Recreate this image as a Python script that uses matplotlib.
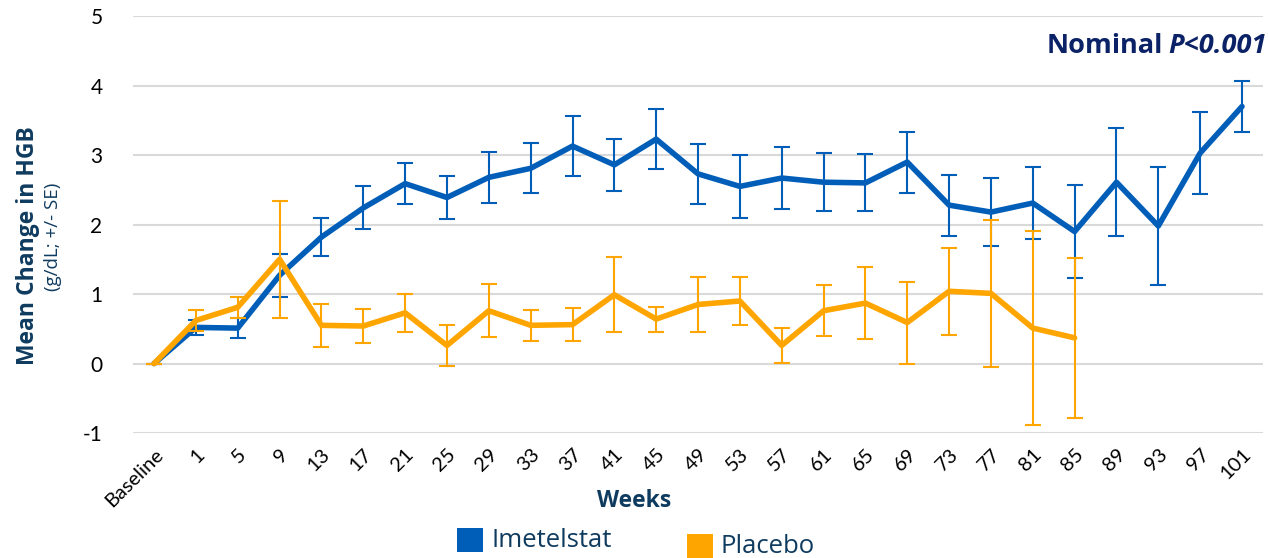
import numpy as np
import matplotlib
matplotlib.use("Agg")
import matplotlib.pyplot as plt
from matplotlib.patches import Rectangle

plt.rcParams["axes.unicode_minus"] = False

weeks = ["Baseline", "1", "5", "9", "13", "17", "21", "25", "29", "33", "37", "41", "45",
         "49", "53", "57", "61", "65", "69", "73", "77", "81", "85", "89", "93", "97", "101"]

imet_mean = [0, 0.52, 0.51, 1.27, 1.82, 2.24, 2.59, 2.39, 2.68, 2.81, 3.13, 2.86, 3.23,
             2.73, 2.55, 2.67, 2.61, 2.60, 2.90, 2.28, 2.18, 2.31, 1.90, 2.61, 1.98, 3.03, 3.70]
imet_se = [0, 0.11, 0.14, 0.31, 0.27, 0.31, 0.30, 0.31, 0.37, 0.36, 0.43, 0.37, 0.43,
           0.43, 0.45, 0.44, 0.42, 0.41, 0.44, 0.44, 0.49, 0.52, 0.67, 0.78, 0.85, 0.59, 0.37]

plac_mean = [0, 0.62, 0.81, 1.50, 0.55, 0.54, 0.73, 0.26, 0.76, 0.55, 0.56, 0.99, 0.64,
             0.85, 0.90, 0.26, 0.76, 0.87, 0.59, 1.04, 1.01, 0.51, 0.37]
plac_se = [0, 0.15, 0.15, 0.84, 0.31, 0.24, 0.27, 0.29, 0.38, 0.22, 0.24, 0.54, 0.18,
           0.40, 0.35, 0.25, 0.37, 0.52, 0.59, 0.63, 1.06, 1.40, 1.15]

blue = "#005EB8"
orange = "#FFA500"
navy = "#0F3B5F"

fig = plt.figure(figsize=(12.68, 5.58), dpi=100)
ax = fig.add_axes([0.105, 0.224, 0.891, 0.747])

x = np.arange(len(weeks))
xp = x[:len(plac_mean)]

ax.errorbar(x, imet_mean, yerr=imet_se, color=blue, lw=4, ecolor=blue, elinewidth=1.5,
            capsize=6, capthick=1.5, solid_capstyle="round", solid_joinstyle="round", zorder=3)
ax.errorbar(xp, plac_mean, yerr=plac_se, color=orange, lw=4, ecolor=orange, elinewidth=1.5,
            capsize=6, capthick=1.5, solid_capstyle="round", solid_joinstyle="round", zorder=4)

ax.set_xlim(-0.5, len(weeks) - 0.5)
ax.set_ylim(-1, 5)
ax.set_yticks(range(-1, 6))
ax.grid(axis="y", color="#D9D9D9", lw=1.5)
ax.set_axisbelow(True)
for s in ax.spines.values():
    s.set_visible(False)
ax.tick_params(length=0)
ax.set_xticks(x)
ax.set_xticklabels(weeks, rotation=45, ha="right", rotation_mode="anchor", fontsize=14.5,
                   family="Lato")
for lab in ax.get_yticklabels():
    lab.set_fontsize(15)
    lab.set_family("Lato")
ax.tick_params(axis="y", pad=22)
ax.tick_params(axis="x", pad=9)

fig.text(0.5, 0.102, "Weeks", ha="center", va="center", fontsize=16.5, fontweight="bold",
         color=navy, family="Open Sans")

fig.text(0.022, 0.56, "Mean Change in HGB", rotation=90, ha="center", va="center",
         fontsize=16.5, fontweight="bold", color=navy, family="Open Sans")
fig.text(0.042, 0.575, "(g/dL; +/- SE)", rotation=90, ha="center", va="center",
         fontsize=13.5, color=navy, family="Open Sans")

# title: italic P part anchored at the right edge, "Nominal" placed to its left
ptxt = fig.text(0.999, 0.918, "P<0.001", ha="right", va="center", fontsize=19.5,
                fontweight="bold", style="italic", color="#0B2266", family="Open Sans")
r = fig.canvas.get_renderer()
bb = ptxt.get_window_extent(r)
left = bb.x0 / fig.bbox.width
fig.text(left - 0.004, 0.918, "Nominal", ha="right", va="center", fontsize=19.5,
         fontweight="bold", color="#0B2266", family="Open Sans")

fig.patches.append(Rectangle((0.3605, 0.011), 0.0205, 0.043, transform=fig.transFigure,
                             facecolor=blue, edgecolor="none"))
fig.text(0.388, 0.032, "Imetelstat", ha="left", va="center", fontsize=18.5, color=navy,
         family="Open Sans")
fig.patches.append(Rectangle((0.5418, 0.0), 0.0205, 0.043, transform=fig.transFigure,
                             facecolor=orange, edgecolor="none"))
fig.text(0.568, 0.021, "Placebo", ha="left", va="center", fontsize=18.5, color=navy,
         family="Open Sans")

fig.savefig("out.png", dpi=100)
